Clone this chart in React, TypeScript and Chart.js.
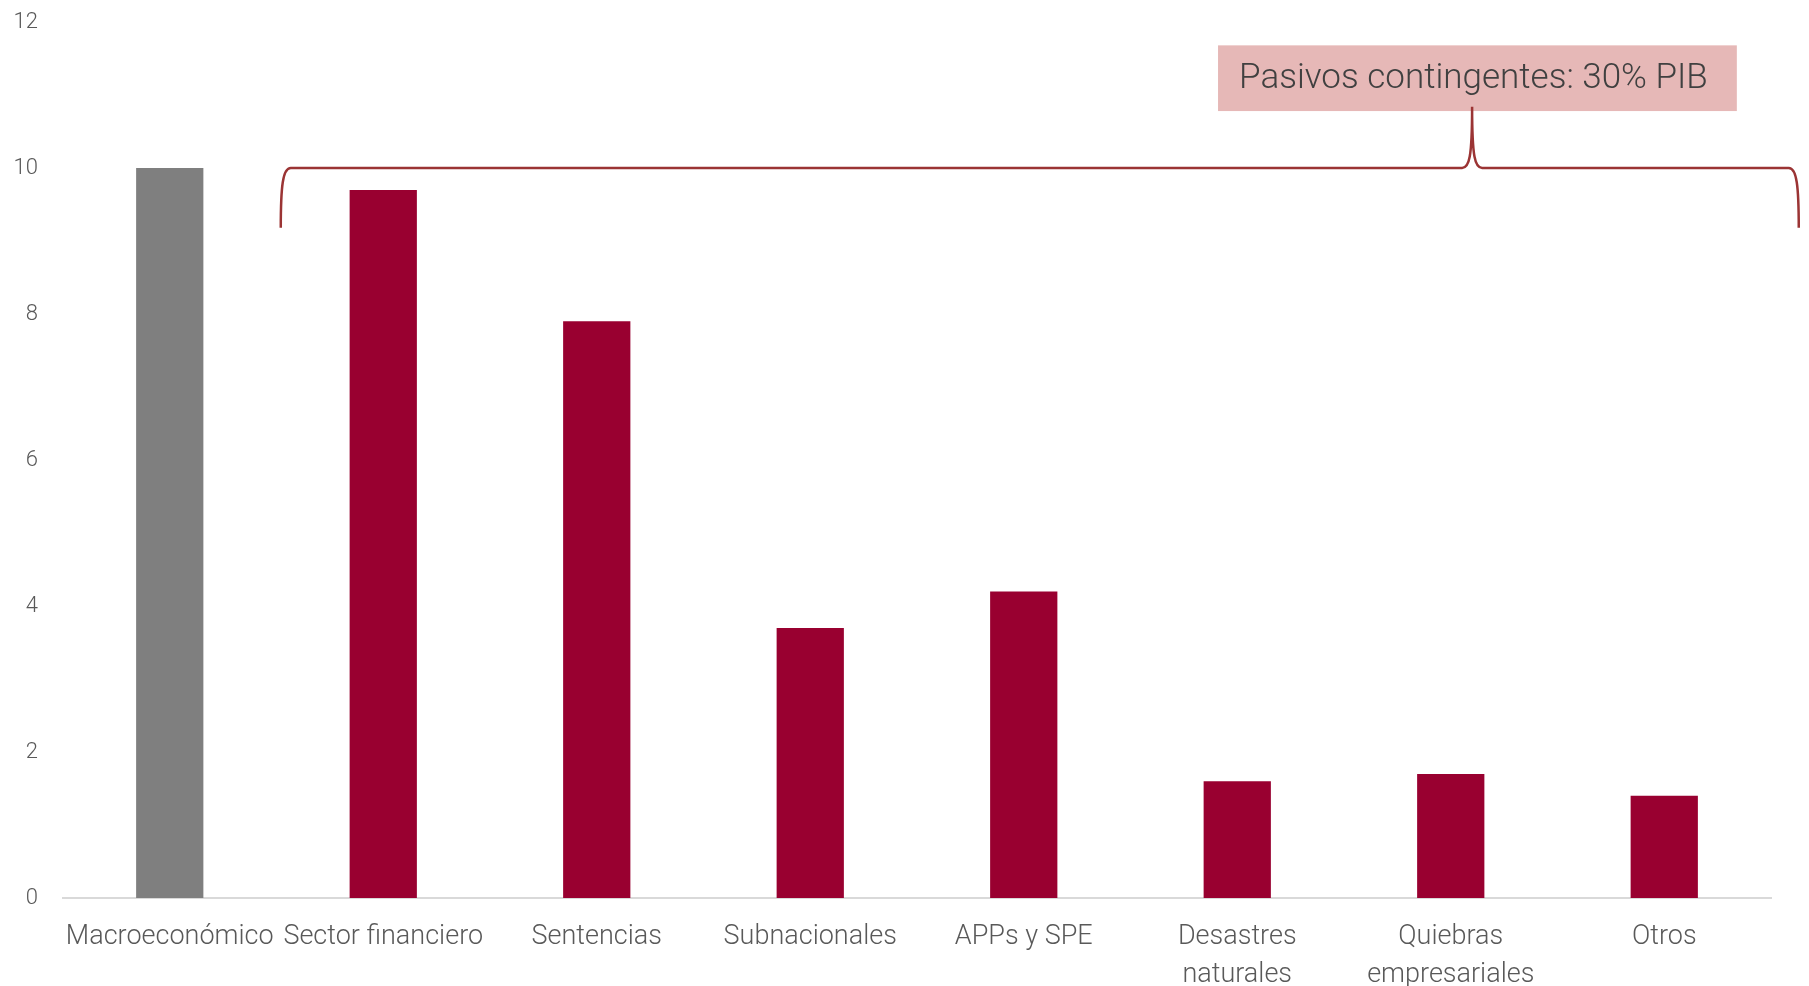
import React, { useEffect, useRef } from "react";
import { Chart, registerables } from "chart.js";

Chart.register(...registerables);

const categories: (string | string[])[] = [
  "Macroeconómico",
  "Sector financiero",
  "Sentencias",
  "Subnacionales",
  "APPs y SPE",
  ["Desastres", "naturales"],
  ["Quiebras", "empresariales"],
  "Otros",
];
const values = [10, 9.7, 7.9, 3.7, 4.2, 1.6, 1.7, 1.4];
const barColors = ["#7F7F7F", "#990030", "#990030", "#990030", "#990030", "#990030", "#990030", "#990030"];
const yTicks = { min: 0, max: 12, step: 2 };

const annotationText = "Pasivos contingentes: 30% PIB";
// annotation anchors in data units (category index, value)
const boxX = [4.91, 7.34];
const boxY = [10.78, 11.68];
const bracketX = [0.52, 7.63];
const bracketPeakX = 6.1;
const bracketY = { bottom: 9.18, top: 10, peak: 10.84 };

const FONT = "Roboto, 'Liberation Sans', sans-serif";

const annotationPlugin = {
  id: "bracketAnnotation",
  afterDraw(chart: any) {
    const { ctx } = chart;
    const xs = chart.scales.x;
    const ys = chart.scales.y;
    ctx.save();
    // box
    const bx0 = xs.getPixelForValue(boxX[0]);
    const bx1 = xs.getPixelForValue(boxX[1]);
    const by0 = ys.getPixelForValue(boxY[1]);
    const by1 = ys.getPixelForValue(boxY[0]);
    ctx.fillStyle = "#E6B8B7";
    ctx.fillRect(bx0, by0, bx1 - bx0, by1 - by0);
    ctx.fillStyle = "#404040";
    ctx.font = `300 35px ${FONT}`;
    ctx.textAlign = "center";
    ctx.textBaseline = "middle";
    ctx.fillText(annotationText, (bx0 + bx1) / 2 - 4, (by0 + by1) / 2 + 1);

    // bracket
    const x0 = xs.getPixelForValue(bracketX[0]);
    const x1 = xs.getPixelForValue(bracketX[1]);
    const xp = xs.getPixelForValue(bracketPeakX);
    const yb = ys.getPixelForValue(bracketY.bottom);
    const yt = ys.getPixelForValue(bracketY.top);
    const yp = ys.getPixelForValue(bracketY.peak);
    ctx.strokeStyle = "#9B3434";
    ctx.lineWidth = 2.5;
    ctx.lineJoin = "round";
    ctx.beginPath();
    ctx.moveTo(x0, yb);
    ctx.bezierCurveTo(x0, yt + 18, x0 + 2, yt, x0 + 10, yt);
    ctx.lineTo(xp - 10, yt);
    ctx.bezierCurveTo(xp - 3, yt, xp, yt - 10, xp, yp);
    ctx.moveTo(xp, yp);
    ctx.bezierCurveTo(xp, yt - 10, xp + 3, yt, xp + 10, yt);
    ctx.lineTo(x1 - 10, yt);
    ctx.bezierCurveTo(x1 - 2, yt, x1, yt + 18, x1, yb);
    ctx.stroke();
    ctx.restore();
  },
};

export default function App() {
  const canvasRef = useRef<HTMLCanvasElement | null>(null);

  useEffect(() => {
    if (!canvasRef.current) return;
    const chart = new Chart(canvasRef.current, {
      type: "bar",
      data: {
        labels: categories as any,
        datasets: [
          {
            data: values,
            backgroundColor: barColors,
            borderWidth: 0,
            categoryPercentage: 1,
            barPercentage: 0.315,
          },
        ],
      },
      options: {
        animation: false,
        responsive: false,
        maintainAspectRatio: false,
        devicePixelRatio: 1,
        layout: { padding: { top: 22, right: 38, bottom: 0, left: 0 } },
        plugins: { legend: { display: false }, tooltip: { enabled: false } },
        scales: {
          x: {
            grid: { display: false, drawTicks: false },
            border: { display: true, color: "#D9D9D9", width: 2 },
            ticks: {
              autoSkip: false,
              maxRotation: 0,
              minRotation: 0,
              padding: 21,
              color: "#595959",
              font: { family: FONT, size: 27, weight: "300" as any, lineHeight: 1.38 },
            },
            afterFit: (scale: any) => {
              scale.height = 88;
            },
          },
          y: {
            min: yTicks.min,
            max: yTicks.max,
            grid: { display: false, drawTicks: true, tickLength: 25 },
            border: { display: false },
            ticks: {
              stepSize: yTicks.step,
              padding: 0,
              color: "#595959",
              font: { family: FONT, size: 22, weight: "300" as any },
            },
            afterFit: (scale: any) => {
              scale.width = 63;
            },
          },
        },
      },
      plugins: [annotationPlugin],
    });
    return () => chart.destroy();
  }, []);

  return (
    <div style={{ position: "fixed", left: 0, top: 0, width: 1809, height: 986, background: "#fff" }}>
      <canvas ref={canvasRef} width={1809} height={986} style={{ width: 1809, height: 986, display: "block" }} />
    </div>
  );
}
